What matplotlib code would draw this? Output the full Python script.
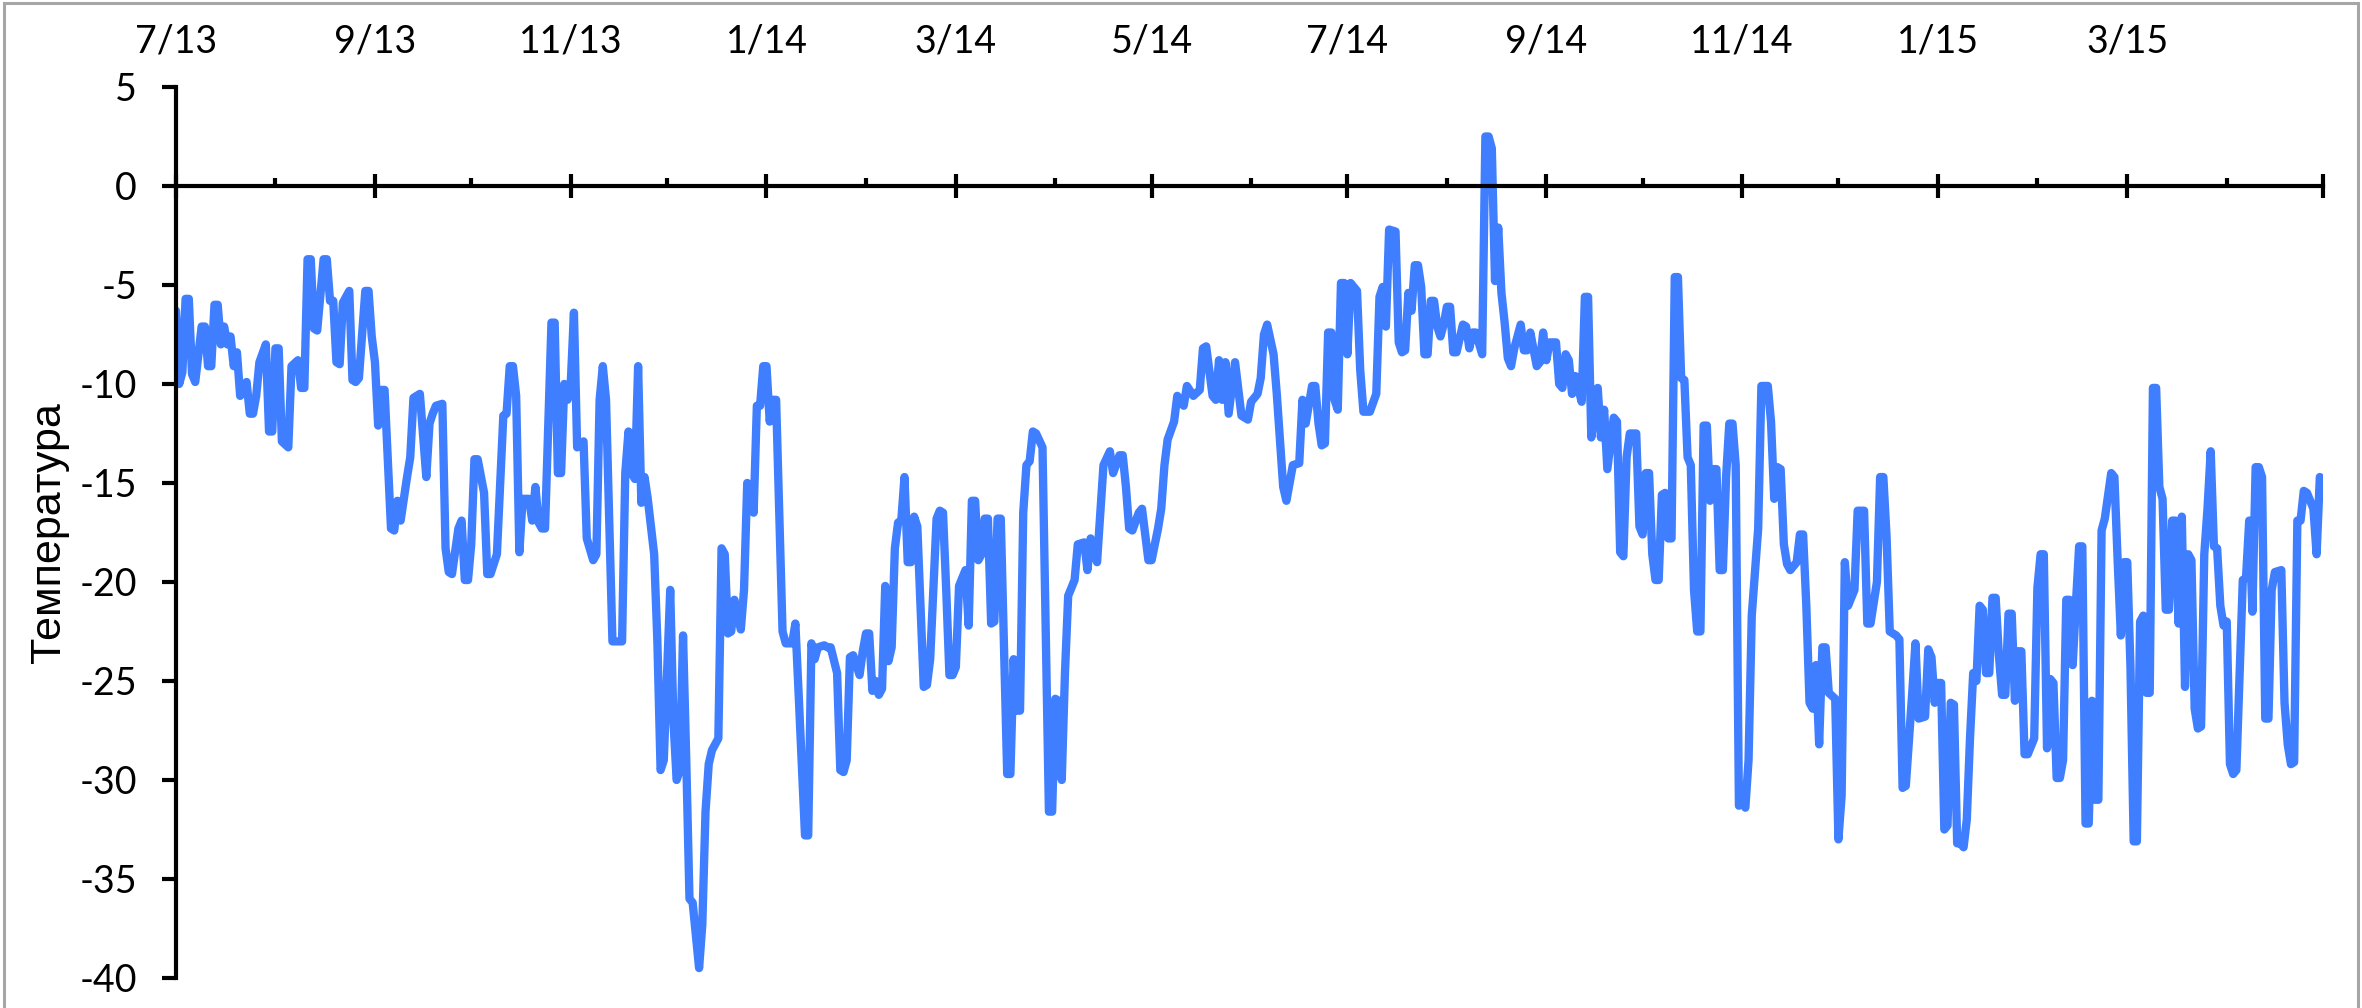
import matplotlib
matplotlib.use('Agg')
import matplotlib.pyplot as plt
import matplotlib.dates as mdates
from matplotlib.ticker import FuncFormatter
from matplotlib.patches import Rectangle
import pandas as pd

# ---- datos (dias desde 1/7/2013, temperatura) ----
inicio = pd.Timestamp('2013-07-01')
fin = pd.Timestamp('2015-05-01')

dias = [
    0, 1, 2, 3, 4, 5, 6, 8, 9, 10,
    11, 12, 13, 14, 15, 16, 17, 18, 19, 20,
    22, 23, 24, 25, 26, 28, 29, 30, 31, 32,
    33, 35, 36, 38, 39, 40, 41, 42, 43, 44,
    46, 47, 48, 49, 50, 51, 52, 54, 55, 56,
    57, 59, 60, 61, 62, 63, 64, 65, 67, 68,
    69, 70, 72, 73, 74, 75, 76, 78, 79, 80,
    81, 83, 84, 85, 86, 88, 89, 90, 91, 92,
    93, 94, 96, 97, 98, 100, 102, 103, 104, 105,
    106, 107, 108, 110, 111, 112, 113, 114, 115, 117,
    118, 119, 120, 121, 122, 123, 124, 125, 127, 128,
    130, 131, 132, 133, 134, 136, 139, 140, 141, 142,
    143, 144, 145, 146, 147, 149, 150, 151, 152, 154,
    155, 156, 157, 158, 159, 160, 161, 163, 164, 165,
    166, 167, 169, 170, 171, 172, 173, 174, 176, 177,
    178, 179, 180, 181, 182, 183, 184, 185, 186, 187,
    189, 190, 192, 193, 194, 196, 197, 198, 199, 200,
    202, 203, 204, 206, 207, 208, 209, 210, 211, 213,
    214, 215, 216, 217, 218, 219, 220, 221, 222, 223,
    224, 225, 226, 227, 228, 229, 230, 231, 233, 234,
    235, 237, 238, 239, 240, 241, 242, 243, 244, 246,
    247, 248, 249, 250, 251, 252, 253, 254, 255, 256,
    257, 259, 260, 261, 262, 263, 264, 265, 266, 267,
    268, 270, 272, 273, 274, 275, 276, 277, 278, 280,
    281, 283, 284, 285, 287, 289, 291, 292, 294, 295,
    296, 297, 298, 300, 301, 303, 304, 306, 307, 308,
    309, 311, 312, 314, 315, 317, 319, 320, 321, 323,
    324, 325, 326, 327, 328, 330, 332, 334, 335, 337,
    338, 339, 340, 342, 343, 345, 346, 348, 350, 351,
    352, 354, 355, 356, 357, 358, 359, 360, 361, 362,
    363, 364, 365, 366, 367, 368, 369, 370, 372, 374,
    375, 376, 377, 378, 380, 381, 382, 383, 384, 385,
    386, 387, 388, 389, 390, 391, 392, 393, 394, 395,
    396, 397, 398, 399, 401, 402, 403, 404, 405, 407,
    408, 409, 410, 411, 412, 413, 414, 415, 416, 417,
    419, 420, 421, 422, 424, 425, 426, 427, 428, 430,
    431, 432, 433, 434, 435, 436, 438, 439, 440, 441,
    443, 444, 445, 446, 448, 449, 450, 451, 452, 453,
    455, 456, 457, 458, 459, 460, 461, 462, 463, 464,
    465, 466, 467, 468, 469, 470, 471, 472, 473, 474,
    475, 476, 477, 478, 479, 480, 481, 482, 483, 484,
    485, 486, 487, 488, 489, 490, 491, 493, 494, 496,
    497, 498, 499, 500, 501, 502, 503, 505, 506, 507,
    508, 509, 510, 511, 512, 513, 514, 515, 517, 518,
    519, 520, 521, 523, 524, 526, 527, 528, 530, 531,
    532, 533, 534, 536, 537, 538, 539, 541, 542, 543,
    545, 546, 547, 548, 549, 550, 551, 552, 553, 554,
    555, 556, 557, 558, 559, 560, 561, 562, 563, 564,
    565, 566, 567, 568, 569, 570, 571, 572, 573, 574,
    575, 576, 577, 578, 579, 580, 581, 582, 583, 584,
    585, 586, 587, 588, 589, 590, 591, 592, 593, 594,
    595, 596, 597, 598, 599, 600, 601, 603, 604, 605,
    606, 607, 608, 609, 610, 611, 612, 613, 614, 615,
    616, 617, 618, 619, 620, 621, 622, 623, 624, 625,
    626, 627, 628, 629, 630, 631, 632, 633, 634, 635,
    636, 637, 638, 639, 640, 641, 642, 644, 645, 646,
    647, 648, 649, 650, 651, 652, 653, 654, 656, 657,
    658, 659, 660, 661, 662, 663, 664, 666, 667, 668,
]

temps = [
    -6.3, -10.0, -9.4, -5.7, -5.7, -9.5, -9.9, -7.1, -7.1, -9.1,
    -9.1, -6.0, -6.0, -8.0, -7.1, -8.0, -7.6, -9.1, -8.4, -10.6,
    -9.9, -11.5, -11.5, -10.6, -8.9, -8.0, -12.4, -12.4, -8.2, -8.2,
    -12.9, -13.2, -9.1, -8.8, -10.2, -10.2, -3.7, -3.7, -7.2, -7.3,
    -3.7, -3.7, -5.8, -5.8, -8.9, -9.0, -5.9, -5.3, -9.8, -9.9,
    -9.7, -5.3, -5.3, -7.6, -8.9, -12.1, -10.3, -10.3, -17.3, -17.4,
    -15.9, -16.9, -14.7, -13.7, -10.7, -10.6, -10.5, -14.7, -12.0, -11.5,
    -11.1, -11.0, -18.3, -19.5, -19.6, -17.3, -16.9, -19.9, -19.9, -18.1,
    -13.8, -13.8, -15.5, -19.6, -19.6, -18.6, -11.6, -11.5, -9.1, -9.1,
    -10.6, -18.5, -15.8, -15.8, -16.9, -15.2, -17.0, -17.3, -17.3, -6.9,
    -6.9, -14.5, -14.5, -10.0, -10.8, -10.0, -6.4, -13.2, -12.9, -17.8,
    -18.9, -18.6, -10.8, -9.1, -10.8, -23.0, -23.0, -14.5, -12.4, -14.5,
    -14.8, -9.1, -16.0, -14.7, -15.8, -18.6, -23.0, -29.5, -29.0, -20.4,
    -27.0, -30.0, -29.5, -22.7, -29.0, -36.0, -36.2, -39.5, -37.3, -31.6,
    -29.2, -28.5, -27.9, -18.3, -18.6, -22.6, -22.5, -20.9, -22.4, -20.4,
    -15.0, -15.1, -16.5, -11.1, -11.1, -9.1, -9.1, -11.9, -10.8, -10.8,
    -22.5, -23.1, -23.1, -22.1, -25.6, -32.8, -32.8, -23.1, -23.9, -23.3,
    -23.2, -23.3, -23.3, -24.6, -29.5, -29.6, -29.0, -23.8, -23.7, -24.7,
    -23.5, -22.6, -22.6, -25.5, -25.0, -25.7, -25.4, -20.2, -24.0, -23.3,
    -18.3, -17.0, -16.9, -14.7, -19.0, -19.0, -16.7, -17.2, -25.3, -25.2,
    -23.9, -16.8, -16.4, -16.5, -20.4, -24.7, -24.7, -24.3, -20.2, -19.4,
    -22.2, -15.9, -15.9, -18.9, -18.6, -16.8, -16.8, -22.1, -22.0, -16.8,
    -16.8, -29.7, -29.7, -23.9, -26.5, -26.5, -16.5, -14.1, -13.9, -12.4,
    -12.5, -13.2, -31.6, -31.6, -25.9, -26.0, -30.0, -24.6, -20.7, -19.9,
    -18.1, -18.0, -19.4, -17.8, -19.0, -14.1, -13.4, -14.5, -13.6, -13.6,
    -15.2, -17.3, -17.4, -16.5, -16.3, -18.9, -18.9, -17.3, -16.3, -14.1,
    -12.8, -11.9, -10.6, -11.1, -10.1, -10.6, -10.3, -8.2, -8.1, -10.6,
    -10.8, -8.8, -10.8, -8.9, -11.5, -8.9, -11.6, -11.8, -10.9, -10.5,
    -9.7, -7.5, -7.0, -8.5, -10.5, -15.2, -15.9, -14.1, -14.0, -10.8,
    -12.0, -10.1, -10.1, -12.0, -13.1, -13.0, -7.4, -7.4, -10.8, -11.3,
    -4.9, -4.9, -8.5, -4.9, -5.1, -5.3, -9.3, -11.4, -11.4, -10.5,
    -5.6, -5.1, -7.1, -2.2, -2.3, -7.9, -8.4, -8.3, -5.4, -6.3,
    -4.0, -4.0, -5.1, -8.5, -8.5, -5.8, -5.8, -7.1, -7.6, -7.0,
    -6.1, -6.1, -8.4, -8.4, -7.0, -7.1, -8.2, -7.4, -7.4, -8.5,
    2.5, 2.5, 1.9, -4.8, -2.1, -5.4, -6.9, -8.7, -9.1, -8.2,
    -7.0, -8.3, -8.3, -7.4, -9.1, -8.9, -7.4, -8.8, -7.9, -7.9,
    -10.0, -10.2, -8.5, -8.8, -10.5, -9.6, -10.9, -5.6, -5.6, -12.7,
    -10.2, -12.7, -11.3, -14.3, -11.7, -11.9, -18.5, -18.7, -13.7, -12.5,
    -12.5, -17.2, -17.6, -14.5, -14.5, -18.6, -19.9, -19.9, -15.6, -15.5,
    -17.8, -17.8, -4.6, -4.6, -9.7, -9.8, -13.7, -14.1, -20.4, -22.5,
    -22.5, -12.1, -12.1, -15.9, -14.3, -14.3, -19.4, -19.4, -14.7, -12.0,
    -12.0, -14.1, -31.3, -31.0, -31.4, -29.0, -21.7, -17.3, -10.1, -10.1,
    -11.9, -15.8, -14.2, -14.3, -18.1, -19.1, -19.4, -19.0, -17.6, -17.6,
    -21.2, -26.1, -26.4, -24.2, -28.2, -23.3, -23.3, -25.6, -25.9, -33.0,
    -30.8, -19.0, -21.2, -20.4, -16.4, -16.4, -22.1, -22.1, -20.0, -14.7,
    -14.7, -17.7, -22.5, -22.7, -22.9, -30.4, -30.3, -25.6, -23.1, -26.9,
    -26.8, -23.4, -23.8, -26.1, -25.1, -25.1, -32.5, -32.3, -26.1, -26.2,
    -33.2, -33.2, -33.4, -32.0, -27.9, -24.6, -25.0, -21.2, -21.4, -24.6,
    -24.6, -20.8, -20.8, -23.7, -25.7, -25.7, -21.6, -21.6, -26.0, -23.5,
    -23.5, -28.7, -28.7, -28.3, -27.9, -20.3, -18.6, -18.6, -28.4, -24.9,
    -25.1, -29.9, -29.9, -29.0, -20.9, -20.9, -24.2, -21.1, -18.2, -18.2,
    -32.2, -32.2, -26.0, -31.0, -31.0, -17.4, -16.8, -14.5, -14.7, -18.9,
    -22.7, -19.0, -19.0, -24.3, -33.1, -33.1, -22.0, -21.7, -25.6, -25.6,
    -10.2, -10.2, -15.2, -15.8, -21.4, -21.4, -16.9, -16.9, -22.1, -16.7,
    -25.3, -18.6, -18.9, -26.4, -27.4, -27.3, -18.6, -16.3, -13.4, -18.2,
    -18.3, -21.2, -22.2, -22.0, -29.2, -29.7, -29.5, -19.9, -19.8, -16.9,
    -21.5, -14.2, -14.2, -14.7, -26.9, -26.9, -20.4, -19.5, -19.4, -26.1,
    -28.2, -29.2, -29.1, -16.9, -16.9, -15.4, -15.5, -16.3, -18.6, -14.7,
]

y_ticks = list(range(-40, 6, 5))
etiqueta_y = 'Температура'

fechas = inicio + pd.to_timedelta(dias, unit='D')

plt.rcParams['axes.unicode_minus'] = False
plt.rcParams['font.family'] = ['Lato', 'DejaVu Sans']

fig = plt.figure(figsize=(23.62, 10.08), dpi=100)
ax = fig.add_axes([0.0745, 0.0298, 0.909, 0.8839])

ax.plot(fechas, temps, color='#3F7EFF', lw=6,
        solid_joinstyle='round', solid_capstyle='round')

ax.set_xlim(inicio, fin)
ax.set_ylim(-40, 5)
ax.set_yticks(y_ticks)

# ejes estilo excel: eje x cruza en 0, etiquetas arriba
ax.spines['top'].set_visible(False)
ax.spines['right'].set_visible(False)
ax.spines['bottom'].set_position(('data', 0))
ax.spines['left'].set_linewidth(3)
ax.spines['bottom'].set_linewidth(3)


def fmt_fecha(x, pos):
    d = mdates.num2date(x)
    if d.year == 2015 and d.month == 5:
        return ''
    return '%d/%s' % (d.month, d.strftime('%y'))


ax.xaxis.set_major_locator(mdates.MonthLocator(bymonth=[1, 3, 5, 7, 9, 11]))
ax.xaxis.set_minor_locator(mdates.MonthLocator())
ax.xaxis.set_major_formatter(FuncFormatter(fmt_fecha))

ax.tick_params(axis='x', which='major', direction='inout', length=17, width=3,
               bottom=True, top=False, labelbottom=False, labeltop=True,
               labelsize=27, pad=11)
ax.tick_params(axis='x', which='minor', direction='in', length=6, width=3,
               bottom=True, top=False)
ax.tick_params(axis='y', direction='out', length=10, width=3,
               labelsize=27, pad=18)

ax.set_ylabel(etiqueta_y, fontsize=31, family=['Liberation Sans', 'DejaVu Sans'])
ax.yaxis.set_label_coords(-0.0499, 0.5)

# marco gris del grafico
fig.patches.append(Rectangle((0.0017, -0.01), 0.9966, 1.007,
                             transform=fig.transFigure, fill=False,
                             ec='#A6A6A6', lw=2.2))

fig.savefig('out.png', dpi=100, facecolor='white')
